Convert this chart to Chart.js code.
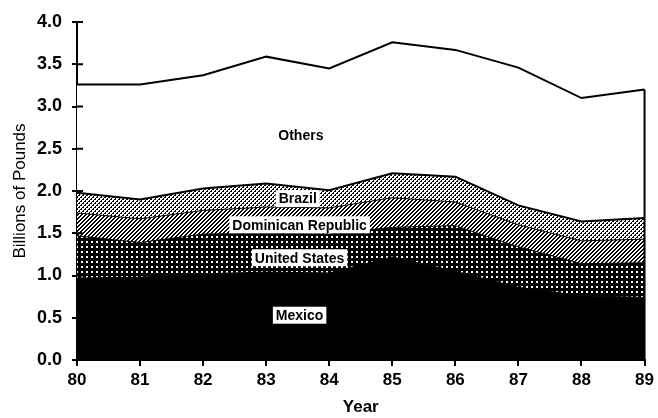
<!DOCTYPE html>
<html>
<head>
<meta charset="utf-8">
<script src="https://cdn.jsdelivr.net/npm/chart.js@4"></script>
<style>
html,body{margin:0;padding:0;background:#fff;}
#wrap{width:658px;height:418px;position:relative;}
</style>
</head>
<body>
<div id="wrap"><canvas id="c" width="658" height="418"></canvas></div>
<script>
const years = ['80','81','82','83','84','85','86','87','88','89'];
const mexico = [0.97,0.98,1.02,1.04,1.03,1.22,1.05,0.86,0.76,0.74];
const unitedStates = [0.50,0.41,0.47,0.46,0.46,0.35,0.54,0.48,0.38,0.41];
const dominicanRepublic = [0.27,0.28,0.28,0.31,0.31,0.35,0.28,0.26,0.27,0.28];
const brazil = [0.24,0.23,0.26,0.28,0.21,0.29,0.30,0.23,0.23,0.25];
const others = [1.28,1.36,1.34,1.50,1.44,1.55,1.50,1.63,1.46,1.52];
const yTicks = [0,0.5,1,1.5,2,2.5,3,3.5,4];
const areaLabels = [
  {text:'Others', x:3.55, y:2.66, box:false},
  {text:'Brazil', x:3.50, y:1.91, box:true},
  {text:'Dominican Republic', x:3.53, y:1.60, box:true},
  {text:'United States', x:3.53, y:1.21, box:true},
  {text:'Mexico', x:3.53, y:0.53, box:true}
];

function makePattern(size, draw){
  const c = document.createElement('canvas');
  c.width = size; c.height = size;
  const g = c.getContext('2d');
  draw(g, size);
  return g.createPattern(c, 'repeat');
}
const brazilPat = makePattern(4, (g)=>{
  g.fillStyle='#fff'; g.fillRect(0,0,4,4);
  g.fillStyle='#000'; g.fillRect(0,0,2,2); g.fillRect(2,2,2,2);
  g.fillStyle='#fff'; g.fillRect(0,0,1,1); g.fillRect(2,2,1,1);
});
const domPat = makePattern(4, (g)=>{
  g.fillStyle='#fff'; g.fillRect(0,0,4,4);
  g.fillStyle='#000';
  for(let i=0;i<4;i++){ g.fillRect(i,3-i,1,1); g.fillRect((i+1)%4,3-i,1,1); }
});
const usPat = makePattern(5, (g)=>{
  g.fillStyle='#000'; g.fillRect(0,0,5,5);
  g.fillStyle='#fff'; g.fillRect(1,1,2,2);
});

const fontMain = 'Liberation Sans, Arial, sans-serif';

const labelPlugin = {
  id:'extras',
  afterDatasetsDraw(chart){
    const {ctx, scales:{x,y}} = chart;
    ctx.save();
    const last = years.length-1;
    const total = mexico[last]+unitedStates[last]+dominicanRepublic[last]+brazil[last]+others[last];
    ctx.strokeStyle='#000'; ctx.lineWidth=2;
    ctx.beginPath();
    ctx.moveTo(x.getPixelForValue(last), y.getPixelForValue(total));
    ctx.lineTo(x.getPixelForValue(last), y.getPixelForValue(0));
    ctx.stroke();
    yTicks.forEach(v=>{
      const py = y.getPixelForValue(v);
      ctx.beginPath(); ctx.moveTo(x.left, py); ctx.lineTo(x.left+6, py); ctx.stroke();
    });
    ctx.font = 'bold 14px ' + fontMain;
    ctx.textAlign='center'; ctx.textBaseline='middle';
    areaLabels.forEach(l=>{
      const px = x.getPixelForValue(l.x), py = y.getPixelForValue(l.y);
      const w = ctx.measureText(l.text).width;
      if(l.box){
        ctx.fillStyle='#fff';
        ctx.fillRect(px - w/2 - 3, py - 8.5, w + 6, 17);
      }
      ctx.fillStyle='#000';
      ctx.fillText(l.text, px, py+1);
    });
    ctx.restore();
  }
};

new Chart(document.getElementById('c'), {
  type:'line',
  data:{
    labels: years,
    datasets:[
      {label:'Mexico', data:mexico, fill:'origin', backgroundColor:'#000', borderColor:'#000', borderWidth:1, pointRadius:0, tension:0},
      {label:'United States', data:unitedStates, fill:'-1', backgroundColor:usPat, borderColor:'#000', borderWidth:1, pointRadius:0, tension:0},
      {label:'Dominican Republic', data:dominicanRepublic, fill:'-1', backgroundColor:domPat, borderColor:'#000', borderWidth:1, pointRadius:0, tension:0},
      {label:'Brazil', data:brazil, fill:'-1', backgroundColor:brazilPat, borderColor:'#000', borderWidth:2, pointRadius:0, tension:0},
      {label:'Others', data:others, fill:'-1', backgroundColor:'#fff', borderColor:'#000', borderWidth:2, pointRadius:0, tension:0}
    ]
  },
  options:{
    responsive:false,
    animation:false,
    devicePixelRatio:1,
    layout:{padding:{top:22,right:8,left:0,bottom:0}},
    plugins:{legend:{display:false}, tooltip:{enabled:false}},
    scales:{
      x:{
        offset:false,
        grid:{display:true, drawOnChartArea:false, color:'#000', lineWidth:2, tickLength:6},
        border:{display:true, color:'#000', width:2},
        ticks:{color:'#000', font:{family:fontMain, size:17, weight:'bold'}, padding:4, maxRotation:0, autoSkip:false},
        title:{display:true, text:'Year', color:'#000', font:{family:fontMain, size:17, weight:'bold'}, padding:{top:0,bottom:0}},
        afterFit(s){ s.height = 58; }
      },
      y:{
        stacked:true,
        min:0, max:4,
        afterBuildTicks(s){ s.ticks = yTicks.map(v=>({value:v})); },
        grid:{display:true, drawOnChartArea:false, color:'#000', lineWidth:2, tickLength:5},
        border:{display:true, color:'#000', width:2},
        ticks:{color:'#000', font:{family:fontMain, size:18, weight:'bold'}, padding:10, callback:(v)=>Number(v).toFixed(1)},
        title:{display:true, text:'Billions of Pounds', color:'#000', font:{family:fontMain, size:17}, padding:{top:10,bottom:0}},
        afterFit(s){ s.width = 77; }
      }
    }
  },
  plugins:[labelPlugin]
});
</script>
</body>
</html>
